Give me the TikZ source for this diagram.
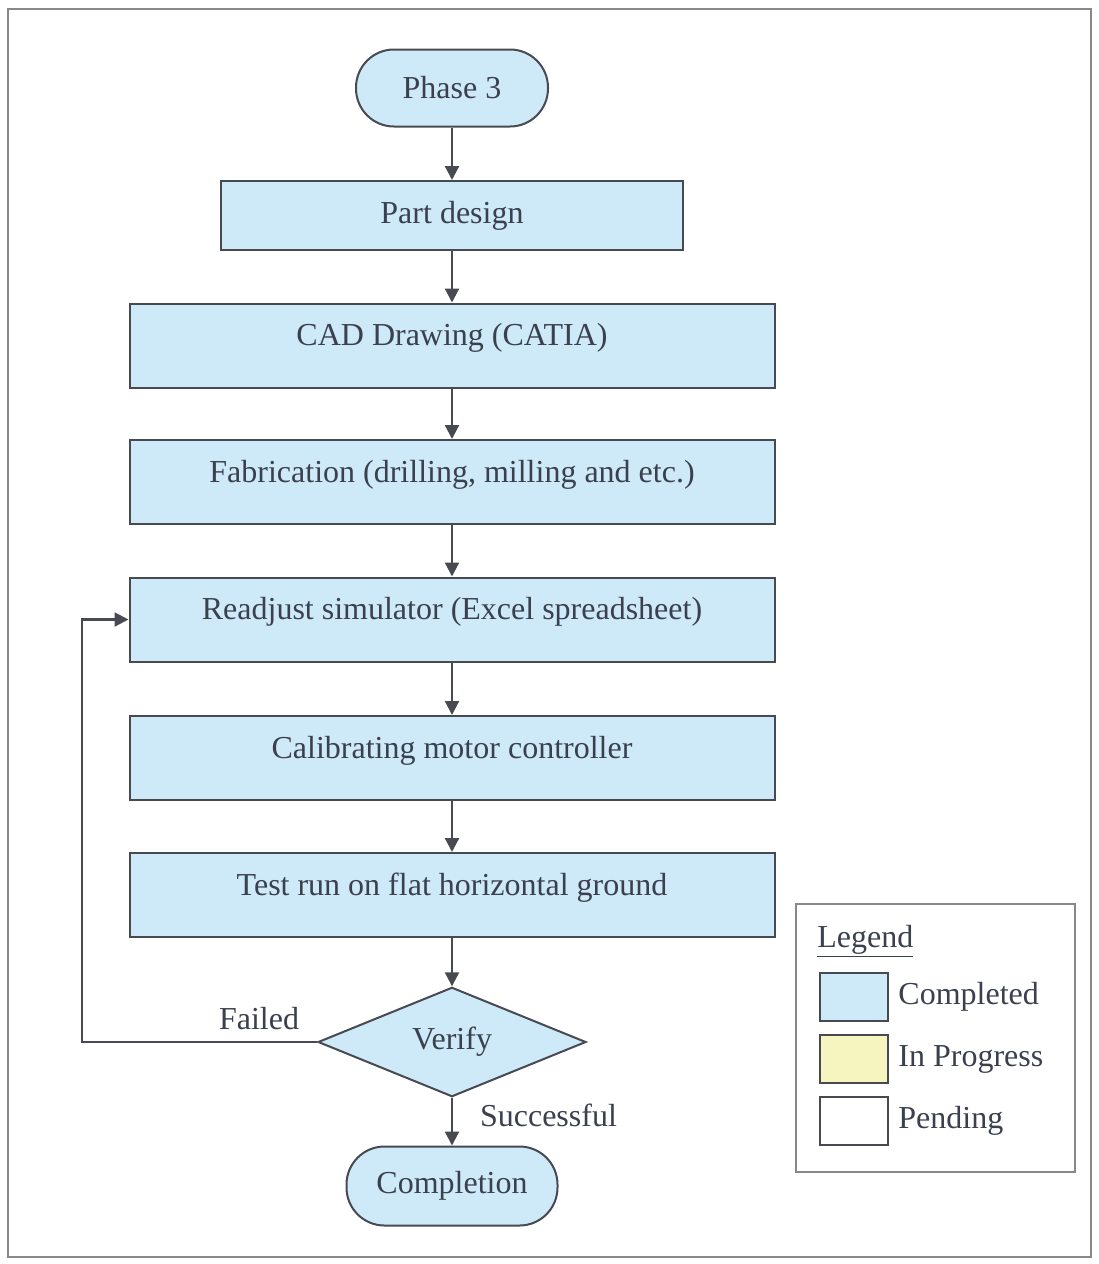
\documentclass[tikz,border=0pt]{standalone}
\usepackage{fontspec}
\setmainfont{LiberationSerif-Regular.ttf}
\usetikzlibrary{shapes.geometric, arrows.meta, positioning}
\definecolor{donefill}{RGB}{206,233,248}
\definecolor{progfill}{RGB}{246,245,192}
\definecolor{edgegray}{RGB}{72,74,82}
\definecolor{textgray}{RGB}{58,64,78}
\definecolor{framegray}{RGB}{135,135,140}

\begin{document}
\begin{tikzpicture}[x=0.5pt, y=-0.5pt,
  font=\rmfamily\fontsize{16}{19}\selectfont, text=textgray,
  process/.style={draw=edgegray, line width=1pt, fill=donefill, rectangle, inner sep=0pt},
  wide/.style={process, minimum width=322.5pt, minimum height=42pt, text height=11pt, text depth=11pt},
  terminal/.style={process, rounded corners=19pt},
  decision/.style={process, diamond, minimum width=134pt, minimum height=52pt},
  swatch/.style={draw=edgegray, line width=1pt, minimum width=34pt, minimum height=24pt, inner sep=0pt},
  flow/.style={draw=edgegray, line width=1.1pt, -{Triangle[width=7pt,length=7pt]}}]
  \useasboundingbox (0,0) rectangle (1098,1264);
  % outer frame
  \draw[framegray, line width=1pt] (8,9) rectangle (1091,1257);
  % flow chart
  \node[terminal, minimum width=96pt, minimum height=38.5pt] (phase) at (452,88) {Phase 3};
  \node[process, minimum width=231pt, minimum height=34.5pt] (part) at (452,215.5) {Part design};
  \node[wide] (cad) at (452,345.5) {CAD Drawing (CATIA)};
  \node[wide] (fab) at (452,482) {Fabrication (drilling, milling and etc.)};
  \node[wide] (readj) at (452,619.5) {Readjust simulator (Excel spreadsheet)};
  \node[wide] (calib) at (452,758) {Calibrating motor controller};
  \node[wide] (test) at (452,895) {Test run on flat horizontal ground};
  \node[decision] (verify) at (452,1042) {Verify};
  \node[terminal, minimum width=105.5pt, minimum height=39.5pt] (done) at (452,1186) {Completion};
  \draw[flow] (phase) -- (part);
  \draw[flow] (part) -- (cad);
  \draw[flow] (cad) -- (fab);
  \draw[flow] (fab) -- (readj);
  \draw[flow] (readj) -- (calib);
  \draw[flow] (calib) -- (test);
  \draw[flow] (test) -- (verify);
  \draw[flow] (verify) -- (done);
  % failed loop
  \coordinate (back) at (82,1042);
  \draw[flow] (verify.west) -- (back) |- (readj.west);
  \node (failed) at (259,1019) {Failed};
  \node[anchor=west] (succ) at (473,1115) {Successful};
  % legend
  \node[draw=framegray, line width=1pt, minimum width=139.5pt, minimum height=134pt] (legend) at (935.5,1038) {};
  \node[anchor=base west, inner sep=0pt] (legtitle) at (817,947) {\underline{Legend}};
  \node[swatch, fill=donefill] (sdone) at (854,997) {};
  \node[swatch, fill=progfill] (sprog) at (854,1059) {};
  \node[swatch, fill=white] (spend) at (854,1121) {};
  \node[right=4.5pt of sdone, inner sep=0pt] (ldone) {Completed};
  \node[right=4.5pt of sprog, inner sep=0pt] (lprog) {In Progress};
  \node[right=4.5pt of spend, inner sep=0pt] (lpend) {Pending};
\end{tikzpicture}
\end{document}
